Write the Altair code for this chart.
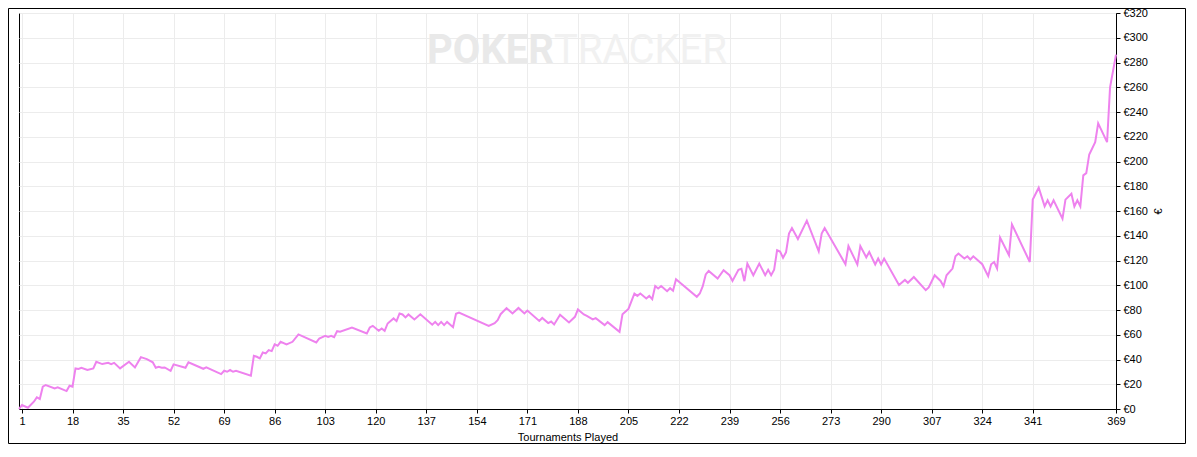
import altair as alt
import pandas as pd

# Tournament number at each vertex of the cumulative winnings line
tournaments = [0, 1, 3, 5, 6, 7, 8, 9, 12, 13, 16, 17, 18, 19, 20, 21, 23, 25, 26, 28,
               30, 31, 32, 34, 37, 39, 41, 43, 45, 46, 47, 48, 49, 51, 52, 56, 57, 62, 63, 68,
               69, 70, 71, 72, 73, 78, 79, 80, 81, 82, 83, 84, 85, 86, 87, 88, 90, 92, 94, 100,
               101, 103, 104, 105, 106, 107, 108, 112, 117, 118, 119, 121, 122, 123, 124, 126, 127, 128, 129, 130,
               131, 133, 135, 139, 140, 141, 142, 143, 144, 146, 147, 148, 158, 160, 161, 162, 164, 166, 168, 170,
               171, 175, 176, 178, 179, 180, 182, 185, 187, 188, 190, 191, 193, 194, 197, 198, 202, 203, 205, 207,
               208, 209, 211, 212, 213, 214, 215, 216, 218, 219, 220, 221, 228, 229, 230, 231, 232, 235, 237, 239,
               240, 242, 243, 244, 245, 247, 249, 251, 252, 253, 254, 255, 256, 257, 258, 259, 260, 262, 265, 269,
               270, 271, 278, 279, 282, 283, 285, 286, 288, 289, 290, 291, 296, 298, 299, 301, 305, 306, 308, 310,
               311, 312, 314, 315, 316, 318, 319, 320, 321, 324, 326, 327, 328, 329, 330, 333, 334, 340, 341, 343,
               345, 346, 347, 348, 351, 352, 354, 355, 356, 357, 358, 359, 360, 362, 363, 366, 367, 369]

# Cumulative winnings (EUR) at each vertex
winnings = [0, 3.2, 1.0, 5.9, 9.4, 8.1, 18.0, 19.4, 16.7, 17.5, 14.5, 18.8, 18.0, 32.8, 32.3, 33.3, 31.5, 32.8, 38.2, 36.3,
            37.3, 36.3, 37.3, 32.8, 38.2, 33.6, 41.9, 40.3, 37.7, 33.3, 34.1, 33.3, 33.6, 30.9, 36.1, 33.3, 37.7, 32.5, 33.6, 28.2,
            30.9, 30.1, 31.5, 30.1, 30.9, 26.9, 43.0, 42.2, 40.9, 45.7, 44.9, 47.6, 46.8, 52.2, 51.1, 54.3, 52.2, 54.3, 60.3, 53.8,
            57.0, 59.1, 58.3, 59.1, 58.1, 62.9, 62.4, 65.9, 61.1, 65.9, 67.2, 63.2, 65.1, 63.2, 69.1, 73.2, 71.0, 77.2, 76.4, 74.0,
            76.4, 72.4, 76.5, 68.1, 70.4, 67.8, 70.4, 67.8, 70.4, 66.1, 77.0, 78.0, 67.1, 69.4, 71.8, 76.6, 81.5, 77.2, 81.7, 77.2,
            79.6, 71.2, 73.6, 69.4, 70.7, 68.3, 76.1, 69.9, 74.5, 80.4, 76.4, 75.2, 72.4, 73.4, 67.8, 70.2, 62.4, 76.6, 80.9, 93.3,
            91.4, 93.3, 89.3, 91.4, 88.7, 99.4, 97.4, 99.4, 95.2, 97.6, 95.6, 104.9, 90.7, 93.3, 99.2, 108.7, 111.6, 105.4, 112.1, 108.1,
            103.5, 112.5, 113.3, 103.3, 117.5, 108.1, 117.5, 108.1, 112.5, 108.1, 112.5, 128.3, 127.2, 122.2, 126.6, 141.7, 146.2, 137.4, 152.2, 127.4,
            141.7, 146.2, 117.0, 131.7, 116.8, 131.7, 122.6, 126.9, 116.8, 121.6, 116.8, 121.6, 100.2, 104.3, 102.0, 106.7, 96.0, 98.2, 108.1, 103.5,
            99.2, 108.1, 113.5, 123.4, 125.6, 121.6, 123.4, 120.8, 123.4, 117.0, 107.3, 117.0, 118.8, 113.5, 138.5, 124.2, 149.2, 118.8, 169.2, 178.8,
            163.7, 168.6, 163.7, 168.6, 153.8, 169.2, 174.0, 163.7, 168.6, 163.7, 188.8, 190.6, 205.7, 215.6, 230.9, 215.6, 260.0, 286.4]

x_ticks = [1, 18, 35, 52, 69, 86, 103, 120, 137, 154, 171, 188, 205, 222, 239, 256, 273, 290, 307, 324, 341, 369]
y_ticks = list(range(0, 321, 20))

W, H = 1097, 396
FONT = "Liberation Sans"

df = pd.DataFrame({"t": tournaments, "v": winnings})

line = alt.Chart(df).mark_line(color="#ee82ee", strokeWidth=2, interpolate="linear").encode(
    x=alt.X("t:Q",
            scale=alt.Scale(domain=[0, 369], nice=False, zero=False),
            axis=alt.Axis(values=x_ticks, title="Tournaments Played", labelFlush=False,
                          labelOverlap=False, tickSize=4, labelPadding=2, titlePadding=5,
                          grid=True)),
    y=alt.Y("v:Q",
            scale=alt.Scale(domain=[0, 320], nice=False),
            axis=alt.Axis(orient="right", values=y_ticks, labelExpr="'€' + datum.value",
                          title="€", titleAngle=270, titleX=42.5, titleY=H / 2,
                          titleAlign="center", titleBaseline="middle",
                          labelFlush=False, labelOverlap=False, tickSize=4, labelPadding=3,
                          grid=True)),
)

wm_poker = alt.Chart(pd.DataFrame({"s": ["POKER"]})).mark_text(
    font="Roboto", fontSize=40, fontWeight="bold", color="#e9e9e9", align="right", baseline="alphabetic"
).encode(text="s:N", x=alt.value(535), y=alt.value(50))

wm_tracker = alt.Chart(pd.DataFrame({"s": ["TRACKER"]})).mark_text(
    font="Roboto", fontSize=40, fontWeight="normal", color="#f1f1f1", align="left", baseline="alphabetic"
).encode(text="s:N", x=alt.value(535), y=alt.value(50))

frame = alt.Chart(pd.DataFrame({"a": [0]})).mark_rect(
    fill=None, stroke="black", strokeWidth=1, clip=False
).encode(x=alt.value(-10.5), x2=alt.value(1166.5), y=alt.value(-4.5), y2=alt.value(430.5))

chart = alt.layer(wm_poker, wm_tracker, line, frame).properties(
    width=W, height=H,
    autosize=alt.AutoSizeParams(type="none"),
    padding={"left": 11, "top": 5, "right": 70, "bottom": 35},
    background="white",
).configure_view(stroke="black", strokeWidth=1).configure_axis(
    domainColor="black", tickColor="black", gridColor="#ececec", gridWidth=1,
    labelFont=FONT, labelFontSize=11, labelColor="black",
    titleFont=FONT, titleFontSize=11, titleFontWeight="normal", titleColor="black",
)

chart.save("out.html", embed_options={"renderer": "svg", "actions": False})
